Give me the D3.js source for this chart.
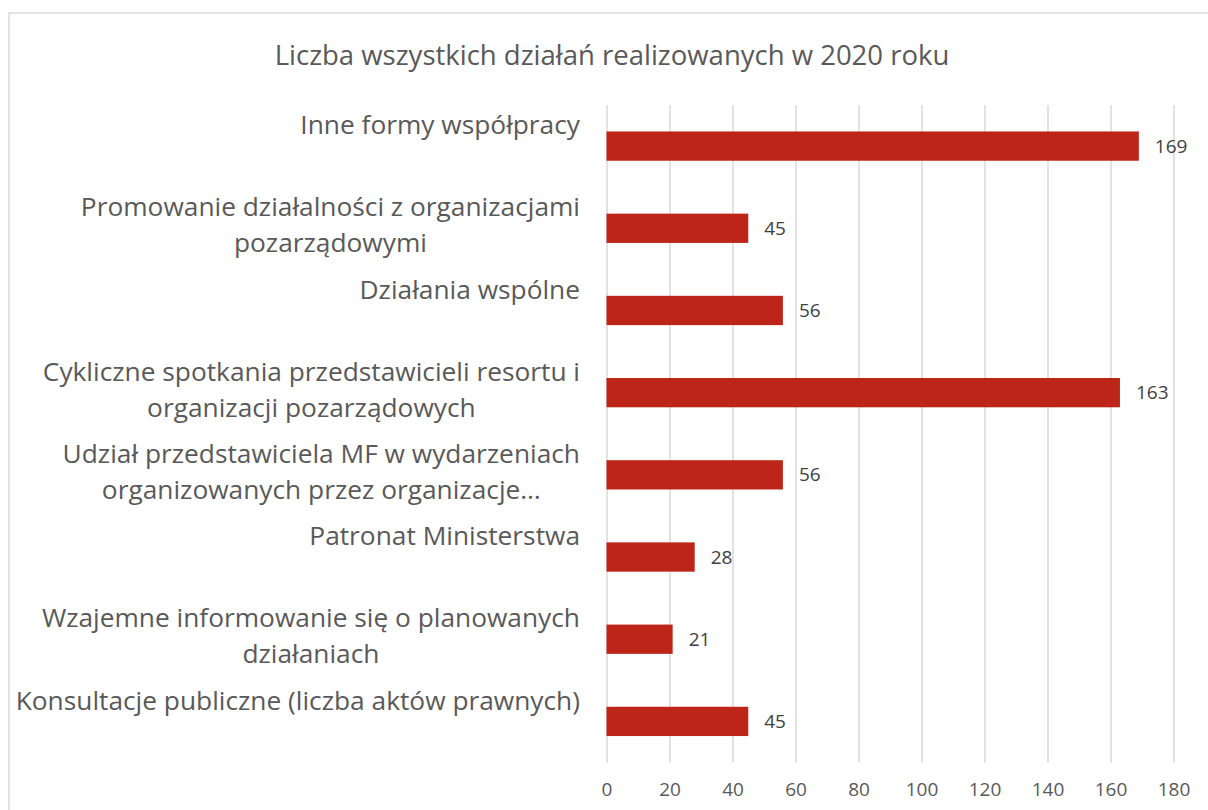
<!DOCTYPE html>
<html>
<head>
<meta charset="utf-8">
<script src="https://cdn.jsdelivr.net/npm/d3@7"></script>
<style>
  body { margin: 0; background: #fff; }
</style>
</head>
<body>
<div id="chart"></div>
<script>
const categories = [
    "Inne formy współpracy",
    "Promowanie działalności z organizacjami\npozarządowymi",
    "Działania wspólne",
    "Cykliczne spotkania przedstawicieli resortu i\norganizacji pozarządowych",
    "Udział przedstawiciela MF w wydarzeniach\norganizowanych przez organizacje…",
    "Patronat Ministerstwa",
    "Wzajemne informowanie się o planowanych\ndziałaniach",
    "Konsultacje publiczne (liczba aktów prawnych)"
];
const values = [169, 45, 56, 163, 56, 28, 21, 45];
const xTicks = [0, 20, 40, 60, 80, 100, 120, 140, 160, 180];
const title = "Liczba wszystkich działań realizowanych w 2020 roku";

const width = 1208;
const height = 810;
const plot = { left: 606.5, right: 1173.5, top: 105, bottom: 762.5 };
const font = "'Open Sans', Lato, sans-serif";

const svg = d3.create("svg")
    .attr("width", width)
    .attr("height", height)
    .attr("style", `font-family: ${font};`);

// chart frame (runs off the right and bottom edge)
svg.append("rect")
    .attr("x", 9)
    .attr("y", 13)
    .attr("width", 1260)
    .attr("height", 900)
    .attr("fill", "#fff")
    .attr("stroke", "#d9d9d9")
    .attr("stroke-width", 1.5);

svg.append("text")
    .attr("x", 612)
    .attr("y", 55)
    .attr("dy", "0.35em")
    .attr("text-anchor", "middle")
    .attr("fill", "#595959")
    .attr("font-size", 27.5)
    .text(title);

const x = d3.scaleLinear()
    .domain([0, 180])
    .range([plot.left, plot.right]);

const y = d3.scaleBand()
    .domain(categories)
    .range([plot.top, plot.bottom])
    .paddingInner(0.6435)
    .paddingOuter(0.6435 / 2);

// gridlines + tick labels
const axis = svg.append("g")
    .attr("transform", `translate(0,${plot.bottom})`)
    .call(d3.axisBottom(x)
        .tickValues(xTicks)
        .tickSize(-(plot.bottom - plot.top))
        .tickPadding(20));
axis.select(".domain").remove();
axis.selectAll(".tick line")
    .attr("stroke", "#d9d9d9")
    .attr("stroke-width", 1.5);
axis.selectAll(".tick text")
    .attr("fill", "#595959")
    .attr("font-size", 19)
    .attr("font-family", font);

svg.append("g")
    .selectAll("rect")
    .data(values)
    .join("rect")
    .attr("x", x(0))
    .attr("y", (d, i) => y(categories[i]))
    .attr("width", d => x(d) - x(0))
    .attr("height", y.bandwidth())
    .attr("fill", "#be2519");

svg.append("g")
    .selectAll("text")
    .data(values)
    .join("text")
    .attr("x", d => x(d) + 16)
    .attr("y", (d, i) => y(categories[i]) + y.bandwidth() / 2)
    .attr("dy", "0.35em")
    .attr("fill", "#404040")
    .attr("font-size", 19)
    .text(d => d);

// category labels: lines centred in a block that is right-aligned to the plot
const labelRight = 580;
const labels = svg.append("g")
    .selectAll("g")
    .data(categories)
    .join("g");

labels.each(function (d) {
    const lines = d.split("\n");
    const cy = y(d) + y.bandwidth() / 2;
    const offsets = lines.length === 1 ? [-21] : [-21, 15];
    d3.select(this).selectAll("text")
        .data(lines)
        .join("text")
        .attr("y", (l, i) => cy + offsets[i])
        .attr("dy", "0.35em")
        .attr("text-anchor", "middle")
        .attr("fill", "#595959")
        .attr("font-size", 26.3)
        .text(l => l);
});

document.getElementById("chart").appendChild(svg.node());

// widths are only known once in the document
labels.each(function () {
    const g = d3.select(this);
    const w = d3.max(g.selectAll("text").nodes(), n => n.getComputedTextLength());
    g.selectAll("text").attr("x", labelRight - w / 2);
});
</script>
</body>
</html>
